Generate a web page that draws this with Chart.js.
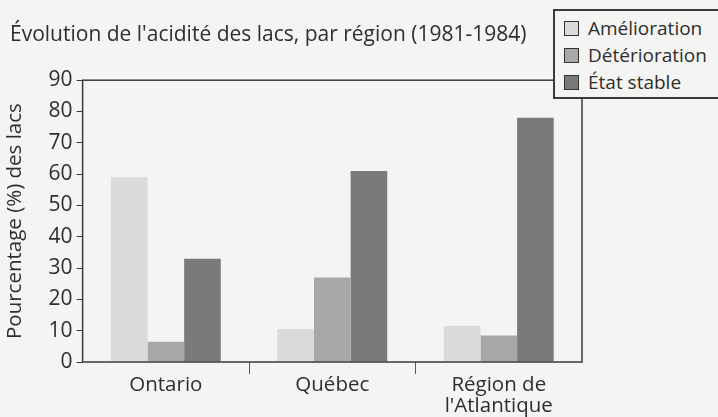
<!DOCTYPE html>
<html>
<head>
<meta charset="utf-8">
<script src="https://cdn.jsdelivr.net/npm/chart.js@4/dist/chart.umd.min.js"></script>
<style>
    body { margin: 0; background: #f4f4f2; font-family: "Open Sans", sans-serif; }
    #wrap { position: relative; width: 718px; height: 417px; }
    #legend {
        position: absolute; left: 553px; top: 9px; width: 180px; height: 90px;
        border: 2px solid #3a3a3a; background: #f4f4f2; box-sizing: border-box;
        padding: 4px 0 0 9px; color: #2e2e2e; font-size: 19px;
    }
    .item { height: 27px; line-height: 27px; white-space: nowrap; }
    .box { display: inline-block; width: 13px; height: 13px; border: 1.5px solid #333; margin-right: 9px; vertical-align: -1px; }
</style>
</head>
<body>
<div id="wrap">
    <canvas id="myChart" width="718" height="417"></canvas>
    <div id="legend"></div>
</div>
<script>
    var regions = ['Ontario', 'Québec', ['Région de', "l'Atlantique"]];
    var amelioration = [59, 10.5, 11.5];
    var deterioration = [6.5, 27, 8.5];
    var etatStable = [33, 61, 78];
    var yTicks = [0, 10, 20, 30, 40, 50, 60, 70, 80, 90];

    var seriesNames = ['Amélioration', 'Détérioration', 'État stable'];
    var seriesColors = ['#dadad8', '#a8a8a6', '#7a7a78'];

    // cadre autour de la zone du graphique
    const frame = {
        id: 'frame',
        afterDraw(chart) {
            const a = chart.chartArea;
            const ctx = chart.ctx;
            ctx.save();
            ctx.strokeStyle = '#3a3a3a';
            ctx.lineWidth = 1.5;
            ctx.strokeRect(a.left, a.top, a.right - a.left, a.bottom - a.top);
            ctx.restore();
        }
    };

    const data1 = {
        labels: regions,
        datasets: [
            { label: seriesNames[0], data: amelioration, backgroundColor: seriesColors[0] },
            { label: seriesNames[1], data: deterioration, backgroundColor: seriesColors[1] },
            { label: seriesNames[2], data: etatStable, backgroundColor: seriesColors[2] }
        ]
    };

    const config = {
        type: 'bar',
        data: data1,
        options: {
            responsive: false,
            animation: false,
            categoryPercentage: 0.66,
            barPercentage: 1.0,
            layout: { padding: { left: 10, right: 136, top: 2, bottom: 0 } },
            plugins: {
                legend: { display: false },
                tooltip: { enabled: false },
                title: {
                    display: true,
                    text: "Évolution de l'acidité des lacs, par région (1981-1984)",
                    align: 'start',
                    color: '#2e2e2e',
                    font: { family: 'Open Sans', size: 21, weight: 'normal' },
                    padding: { top: 20, bottom: 33 }
                }
            },
            scales: {
                x: {
                    border: { display: false },
                    grid: {
                        drawOnChartArea: false,
                        tickLength: 12,
                        color: function (c) { return (c.type === 'tick' && c.index > 0) ? '#555' : 'rgba(0,0,0,0)'; }
                    },
                    ticks: {
                        color: '#2e2e2e',
                        padding: 1,
                        font: { family: 'Open Sans', size: 20.5, lineHeight: 1.0 }
                    }
                },
                y: {
                    min: 0,
                    max: 90,
                    border: { display: false },
                    grid: { drawOnChartArea: false, tickLength: 6, color: '#3a3a3a' },
                    afterBuildTicks: function (axis) {
                        axis.ticks = yTicks.map(function (v) { return { value: v }; });
                    },
                    ticks: {
                        color: '#2e2e2e',
                        padding: 4,
                        font: { family: 'Open Sans', size: 21 }
                    },
                    title: {
                        display: true,
                        text: 'Pourcentage (%) des lacs',
                        color: '#2e2e2e',
                        font: { family: 'Open Sans', size: 20.5 },
                        padding: { top: -7, bottom: 17 }
                    }
                }
            }
        },
        plugins: [frame]
    };

    const myChart = new Chart(document.getElementById('myChart'), config);

    var legend = document.getElementById('legend');
    myChart.data.datasets.forEach(function (ds) {
        var row = document.createElement('div');
        row.className = 'item';
        row.innerHTML = '<span class="box" style="background:' + ds.backgroundColor + '"></span>' + ds.label;
        legend.appendChild(row);
    });
</script>
</body>
</html>
